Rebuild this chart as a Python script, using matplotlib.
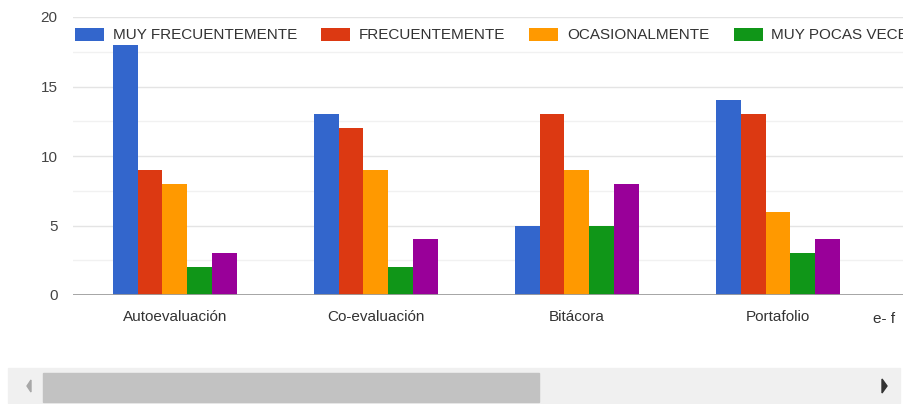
import numpy as np
import matplotlib.pyplot as plt
from matplotlib.patches import Rectangle, Polygon

plt.rcParams['font.family'] = ['Liberation Sans', 'DejaVu Sans']

categories = ['Autoevaluación', 'Co-evaluación', 'Bitácora', 'Portafolio']
series = ['MUY FRECUENTEMENTE', 'FRECUENTEMENTE', 'OCASIONALMENTE', 'MUY POCAS VECES']
muy_frecuentemente = [18, 13, 5, 14]
frecuentemente = [9, 12, 13, 13]
ocasionalmente = [8, 9, 9, 6]
muy_pocas_veces = [2, 2, 5, 3]
quinta_serie = [3, 4, 8, 4]  # purple series, its legend entry is cut off
colors = ['#3366cc', '#dc3912', '#ff9900', '#109618', '#990099']
next_label = 'e- f'  # the next category is cut off by the scroll view

W, H = 904, 404
fs = 11
fig = plt.figure(figsize=(W / 100, H / 100), dpi=100)
ax = fig.add_axes([73 / W, 1 - 295 / H, 1 - 73 / W, (295 - 17) / H])

values = [muy_frecuentemente, frecuentemente, ocasionalmente, muy_pocas_veces, quinta_serie]
x = np.arange(len(categories))
bw = 0.124
for i, vals in enumerate(values):
    label = series[i] if i < len(series) else None
    ax.bar(x + (i - 2) * bw, vals, bw, color=colors[i], label=label, zorder=3)

ax.set_xlim(-0.507, 3.627)
ax.set_ylim(0, 20)
ax.set_yticks([0, 5, 10, 15, 20])
ax.set_yticks([2.5, 7.5, 12.5, 17.5], minor=True)
ax.grid(axis='y', which='major', color='#e4e4e4', lw=1, zorder=0)
ax.grid(axis='y', which='minor', color='#f1f1f1', lw=1, zorder=0)
ax.axhline(0, color='#9e9e9e', lw=2, zorder=4)
for s in ax.spines.values():
    s.set_visible(False)
ax.tick_params(axis='y', which='both', length=0, pad=11, labelsize=fs, labelcolor='#444444')
ax.set_xticks(x)
ax.set_xticklabels(categories)
ax.tick_params(axis='x', length=0, pad=11, labelsize=fs, labelcolor='#333333')

fig.text(873 / W, 1 - 319 / H, next_label, ha='left', va='center', fontsize=fs, color='#333333')

leg = ax.legend(loc='center left', bbox_to_anchor=(75 / W, 1 - 35 / H),
                bbox_transform=fig.transFigure, ncol=4, frameon=False,
                borderpad=0, borderaxespad=0, handlelength=1.9, handleheight=0.95,
                handletextpad=0.58, columnspacing=1.57, fontsize=fs)
for t in leg.get_texts():
    t.set_color('#333333')

# scrollbar under the chart
fig.patches.append(Rectangle((8 / W, 1 - 403 / H), 892 / W, 35 / H,
                             transform=fig.transFigure, color='#f0f0f0', zorder=0))
fig.patches.append(Rectangle((43 / W, 1 - 402 / H), 496 / W, 29 / H,
                             transform=fig.transFigure, color='#c2c2c2', zorder=1))
fig.patches.append(Polygon([(27 / W, 1 - 386 / H), (31 / W, 1 - 380 / H), (31 / W, 1 - 392 / H)],
                           closed=True, transform=fig.transFigure, color='#a8a8a8', zorder=1))
fig.patches.append(Polygon([(887 / W, 1 - 386 / H), (882 / W, 1 - 379 / H), (882 / W, 1 - 393 / H)],
                           closed=True, transform=fig.transFigure, color='#333333', zorder=1))

fig.savefig('out.png', dpi=100)
